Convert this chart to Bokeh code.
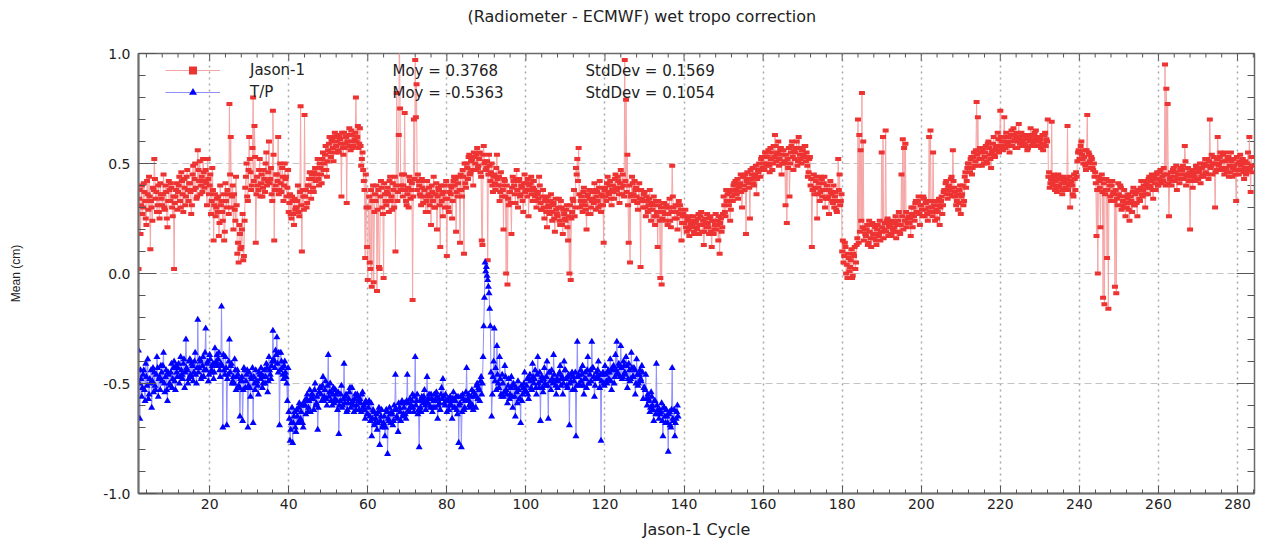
import numpy as np
from bokeh.plotting import figure
from bokeh.models import Range1d, FixedTicker, Label, Legend, LegendItem, Title
from bokeh.embed import file_html
from bokeh.resources import INLINE

# ---------------- data (values in hundredths of cm) ----------------
# set "a": samples at cycle + 0, 1/3, 2/3 ; set "b": samples at cycle + 1/6, 1/2, 5/6
FIRST_CYCLE = 2
SAMPLES_PER_CYCLE = 3

jason_a_c002_041 = [
    2, 38, 31, 27, 41, 33, 22, 36, 44, 11, 30, 39, 52, 34, 28, 40, 25, 36, 31, 45, 29, 37, 21, 42, 33, 39, 26, 2, 35, 41,
    37, 44, 30, 42, 28, 39, 35, 47, 33, 41, 27, 45, 38, 50, 34, 56, 42, 36, 44, 52, 39, 47, 31, 43, 40, 27, 48, 15, 36, 30,
    28, 17, 40, 33, 24, 15, 41, 30, 36, 77, 62, 35, 20, 29, 44, 9, 5, 18, 12, 27, 8, 39, 50, 33, 62, 46, 40, 80, 67, 14,
    44, 38, 52, 41, 35, 47, 37, 55, 42, 60, 43, 36, 74, 15, 40, 45, 62, 38, 41, 48, 33, 50, 44, 39, 28, 36, 25, 33, 22, 29,
]
jason_a_c042_081 = [
    30, 40, 26, 76, 10, 35, 72, 38, 32, 40, 46, 34, 43, 37, 48, 45, 52, 40, 48, 41, 55, 50, 58, 44, 56, 62, 53, 60, 51, 64,
    58, 63, 55, 61, 35, 57, 64, 59, 32, 60, 66, 56, 63, 58, 61, 80, 62, 57, 66, 49, 55, 42, 7, 30, -3, 35, 2, -6, 40, 28,
    33, -8, 38, 2, 42, 30, -2, 36, 31, 39, 28, 44, 35, 41, 30, 10, 82, 37, 112, 38, 45, 40, 73, 33, 36, 30, 42, 38, -12, 70,
    97, 86, 45, 40, 35, 43, 32, 38, 28, 42, 36, 31, 22, 37, 44, 30, 41, 35, 38, 12, 33, 26, 40, 34, 8, 30, 37, 36, 25, 42,
]
jason_a_c082_121 = [
    40, 19, 35, 44, 14, 38, 47, 9, 41, 50, 43, 54, 46, 52, 40, 53, 47, 57, 49, 55, 44, 13, 58, 51, 48, 6, 54, 42, 50, 37,
    45, 38, 54, 40, 33, 46, 35, 20, 42, 0, -5, 31, 37, 18, 44, 40, 32, 47, 30, 43, 36, 39, 28, 45, 41, 35, 26, 38, 44, 33,
    42, 35, 30, 37, 44, 32, 29, 38, 25, 34, 21, 31, 27, 36, 24, 32, 19, 29, 26, 34, 22, 30, 18, 27, 24, 31, 15, 0, -3, 28,
    33, 26, 48, 52, 57, 30, 35, 28, 39, 31, 20, 36, 38, 27, 33, 34, 41, 29, 37, 30, 42, 28, 35, 14, 39, 33, 44, 36, 42, 31,
]
jason_a_c122_161 = [
    40, 34, 45, 38, 42, 32, 47, 36, 40, 97, 79, 54, 14, 5, 36, 41, 33, 38, 35, 29, 41, 3, 34, 30, 37, 26, 33, 31, 38, 24,
    29, 35, 22, 26, 12, 31, -2, -5, 28, 32, 24, 30, 27, 34, 21, 49, 30, 25, 28, 20, 33, 31, 15, 26, 23, 29, 19, 25, 17, 22,
    21, 26, 18, 24, 20, 27, 22, 28, 19, 13, 25, 21, 23, 18, 26, 12, 24, 20, 27, 22, 15, 9, 25, 21, 35, 28, 38, 36, 31, 24,
    38, 33, 41, 42, 36, 34, 40, 45, 30, 44, 38, 18, 46, 41, 25, 43, 48, 40, 45, 36, 47, 50, 44, 53, 53, 47, 55, 50, 56, 46,
]
jason_a_c162_201 = [
    52, 47, 58, 63, 51, 55, 49, 56, 45, 54, 50, 31, 23, 48, 35, 55, 60, 47, 52, 57, 49, 62, 54, 50, 56, 53, 58, 55, 44, 52,
    40, 12, 38, 36, 42, 25, 39, 33, 44, 35, 41, 30, 38, 34, 27, 42, 36, 32, 30, 37, 28, 52, 45, 33, 10, 5, 14, 0, -2, 7,
    3, 11, -1, 8, 2, 13, 70, 63, 56, 82, 60, 20, 17, 22, 14, 19, 12, 23, 16, 21, 13, 22, 18, 15, 55, 62, 20, 65, 24, 17,
    21, 18, 24, 19, 23, 16, 22, 28, 18, 45, 61, 57, 59, 21, 25, 23, 17, 27, 30, 24, 33, 28, 35, 22, 31, 26, 34, 29, 33, 24,
]
jason_a_c202_241 = [
    62, 65, 30, 55, 28, 33, 25, 31, 22, 33, 27, 37, 38, 42, 34, 40, 36, 44, 56, 39, 35, 33, 29, 38, 27, 36, 31, 44, 39, 48,
    50, 46, 53, 48, 55, 51, 78, 71, 52, 55, 49, 57, 53, 58, 50, 60, 54, 48, 56, 62, 53, 58, 64, 55, 74, 60, 56, 71, 57, 62,
    60, 55, 63, 58, 66, 61, 62, 57, 68, 59, 64, 60, 63, 58, 61, 57, 62, 66, 61, 59, 64, 65, 60, 58, 62, 57, 63, 59, 64, 61,
    70, 46, 41, 69, 40, 44, 42, 37, 45, 39, 43, 36, 44, 38, 41, 67, 40, 30, 42, 36, 45, 38, 44, 55, 52, 58, 54, 50, 56, 47,
]
jason_a_c242_283 = [
    72, 55, 51, 53, 48, 50, 46, 17, 0, 42, 21, 45, -11, -14, 38, 7, -16, 40, 33, 42, 37, -6, -9, 31, 36, 40, 29, 33, 38, 26,
    30, 36, 24, 35, 28, 39, 31, 37, 26, 38, 33, 42, 35, 40, 30, 41, 36, 44, 39, 45, 34, 43, 38, 46, 40, 46, 42, 44, 48, 95,
    84, 77, 26, 44, 40, 47, 42, 46, 38, 45, 41, 48, 47, 43, 58, 40, 45, 42, 20, 44, 39, 46, 42, 48, 43, 47, 41, 48, 44, 50,
    46, 52, 43, 70, 49, 45, 53, 30, 47, 62, 50, 55, 48, 54, 45, 51, 46, 53, 49, 55, 44, 52, 47, 33, 50, 45, 54, 47, 52, 43,
    51, 46, 55, 62, 37, 49,
]

jason_b_c002_041 = [
    34, 18, 40, 30, 37, 25, 42, 29, 35, 33, 24, 38, 43, 37, 31, 28, 41, 34, 36, 30, 40, 25, 33, 38, 41, 30, 35, 32, 38, 29,
    40, 33, 46, 36, 43, 31, 44, 38, 41, 37, 31, 49, 43, 39, 35, 47, 51, 40, 37, 46, 42, 41, 52, 36, 45, 33, 38, 31, 26, 34,
    35, 23, 31, 28, 36, 19, 33, 38, 27, 45, 30, 40, 36, 24, 31, 14, 22, 11, 20, 6, 24, 44, 35, 47, 52, 38, 57, 42, 53, 36,
    40, 47, 35, 45, 39, 43, 50, 40, 46, 41, 48, 33, 54, 38, 45, 42, 36, 50, 37, 44, 40, 43, 35, 47, 32, 27, 35, 27, 34, 30,
]
jason_b_c042_081 = [
    33, 28, 37, 31, 38, 29, 35, 30, 40, 43, 37, 45, 39, 46, 42, 48, 43, 50, 45, 52, 47, 54, 47, 51, 59, 55, 61, 57, 62, 55,
    60, 56, 62, 59, 64, 54, 57, 62, 60, 63, 58, 65, 57, 60, 64, 60, 67, 59, 58, 52, 47, 38, 45, 12, 30, 5, 38, 33, -4, 36,
    40, 29, 3, 35, 39, 27, 41, 33, 37, 36, 42, 33, 29, 38, 44, 40, 33, 63, 75, 40, 35, 45, 38, 31, 39, 44, 34, 41, 35, 43,
    71, 38, 42, 36, 31, 39, 42, 35, 33, 28, 39, 35, 40, 33, 30, 36, 20, 39, 31, 40, 36, 37, 30, 42, 34, 28, 40, 39, 33, 44,
]
jason_b_c082_121 = [
    43, 37, 41, 38, 45, 35, 44, 50, 39, 48, 53, 45, 51, 47, 55, 50, 54, 48, 52, 46, 15, 54, 50, 47, 51, 45, 49, 46, 40, 44,
    41, 48, 43, 44, 37, 40, 38, 43, 35, 40, 34, 37, 32, 39, 42, 36, 43, 38, 42, 35, 40, 33, 41, 37, 38, 43, 40, 41, 36, 39,
    38, 33, 36, 34, 40, 29, 35, 30, 33, 28, 35, 30, 33, 28, 31, 25, 34, 27, 30, 24, 33, 22, 29, 25, 29, 21, 26, 31, 25, 34,
    38, 30, 45, 42, 36, 33, 31, 37, 33, 29, 35, 27, 34, 30, 37, 32, 38, 35, 33, 39, 31, 36, 31, 38, 35, 41, 37, 40, 34, 38,
]
jason_b_c122_161 = [
    37, 43, 39, 44, 36, 41, 39, 45, 35, 42, 37, 31, 40, 35, 44, 36, 42, 39, 32, 38, 34, 38, 33, 36, 30, 35, 28, 34, 29, 32,
    31, 26, 33, 28, 33, 24, 30, 25, 32, 27, 31, 22, 30, 24, 28, 35, 28, 31, 25, 31, 27, 29, 23, 27, 26, 21, 24, 20, 26, 23,
    24, 19, 23, 21, 25, 18, 26, 22, 24, 19, 23, 27, 21, 25, 19, 24, 18, 22, 20, 24, 26, 23, 19, 27, 31, 26, 33, 33, 37, 29,
    35, 40, 36, 38, 43, 39, 41, 37, 44, 40, 45, 42, 43, 39, 47, 45, 41, 44, 49, 43, 46, 47, 52, 48, 50, 55, 49, 53, 49, 57,
]
jason_b_c162_201 = [
    55, 50, 53, 58, 54, 60, 52, 57, 50, 56, 51, 54, 52, 57, 50, 58, 53, 56, 55, 60, 51, 57, 52, 56, 54, 58, 51, 49, 46, 53,
    43, 38, 45, 39, 44, 36, 41, 37, 43, 38, 44, 34, 40, 35, 38, 37, 33, 40, 35, 29, 33, 38, 31, 36, 15, 8, 12, 4, 9, 1,
    6, -2, 9, 12, 5, 16, 14, 19, 24, 21, 15, 18, 20, 13, 24, 16, 22, 18, 22, 15, 20, 17, 24, 19, 21, 16, 23, 19, 25, 22,
    23, 17, 20, 21, 26, 19, 24, 19, 22, 26, 20, 24, 28, 23, 26, 25, 30, 21, 26, 32, 28, 33, 27, 31, 29, 35, 26, 32, 27, 30,
]
jason_b_c202_241 = [
    28, 33, 26, 31, 24, 29, 28, 34, 30, 35, 31, 38, 41, 36, 39, 38, 43, 35, 42, 37, 31, 36, 32, 40, 35, 40, 33, 46, 42, 50,
    48, 52, 45, 53, 49, 56, 54, 49, 57, 52, 56, 50, 55, 51, 59, 57, 52, 55, 59, 54, 57, 56, 61, 58, 62, 57, 60, 58, 64, 59,
    62, 58, 65, 60, 63, 57, 64, 60, 62, 61, 58, 63, 59, 62, 56, 63, 60, 58, 60, 63, 61, 58, 62, 60, 61, 59, 56, 63, 58, 60,
    44, 39, 43, 41, 45, 38, 39, 43, 40, 44, 41, 38, 42, 39, 43, 38, 44, 41, 40, 35, 43, 46, 51, 56, 55, 60, 52, 53, 49, 56,
]
jason_b_c242_283 = [
    50, 54, 48, 52, 47, 44, 41, 38, 44, 39, 43, 37, 41, 36, 43, 38, 42, 35, 40, 36, 33, 38, 34, 41, 35, 39, 31, 30, 35, 32,
    34, 29, 32, 33, 37, 31, 36, 32, 38, 34, 39, 36, 38, 42, 36, 39, 43, 40, 42, 38, 44, 41, 45, 40, 43, 47, 41, 42, 45, 40,
    45, 41, 43, 46, 42, 48, 44, 49, 43, 43, 47, 45, 49, 45, 51, 44, 48, 46, 42, 47, 45, 44, 49, 43, 46, 50, 44, 45, 49, 52,
    49, 45, 51, 48, 54, 50, 50, 46, 52, 49, 53, 47, 51, 47, 55, 48, 52, 44, 46, 51, 48, 49, 45, 53, 47, 51, 49, 50, 46, 48,
    45, 50, 47, 48, 53, 46,
]

tp_a_c002_041 = [
    -35, -66, -48, -52, -44, -58, -47, -39, -55, -50, -61, -43, -45, -53, -38, -56, -47, -42, -49, -36, -54, -44, -58, -46, -51, -41, -48, -40, -53, -45,
    -43, -50, -38, -46, -41, -52, -30, -44, -48, -39, -47, -42, -45, -36, -50, -21, -43, -40, -47, -38, -44, -25, -41, -49, -37, -45, -42, -48, -34, -40,
    -42, -36, -47, -15, -70, -44, -38, -69, -46, -30, -42, -50, -47, -39, -53, -44, -51, -65, -49, -67, -43, -52, -46, -70, -45, -56, -48, -68, -50, -44,
    -49, -55, -46, -43, -52, -47, -50, -41, -54, -38, -46, -42, -26, -40, -35, -29, -45, -69, -36, -43, -48, -40, -47, -58, -63, -76, -68, -77, -65, -70,
]
tp_a_c042_081 = [
    -62, -68, -59, -66, -60, -70, -58, -64, -55, -61, -53, -57, -55, -62, -50, -59, -71, -54, -52, -58, -47, -56, -49, -60, -37, -54, -58, -60, -52, -57,
    -55, -62, -73, -58, -51, -60, -41, -56, -63, -59, -54, -61, -52, -60, -57, -62, -55, -58, -57, -63, -54, -60, -66, -59, -64, -58, -67, -74, -62, -69,
    -66, -71, -63, -78, -65, -70, -68, -74, -62, -82, -67, -64, -63, -69, -60, -46, -65, -72, -61, -67, -58, -64, -59, -66, -46, -62, -57, -60, -55, -63,
    -38, -58, -64, -79, -61, -56, -59, -53, -62, -47, -57, -60, -55, -63, -58, -61, -54, -66, -57, -62, -52, -48, -59, -55, -63, -57, -60, -58, -66, -54,
]
tp_a_c082_121 = [
    -61, -56, -64, -77, -59, -79, -55, -62, -58, -43, -57, -60, -59, -53, -62, -56, -61, -50, -52, -58, -47, -50, -24, 5, 3, -3, -9, -24, -65, -47,
    -25, -43, -33, -50, -38, -55, -46, -56, -42, -53, -59, -48, -55, -47, -61, -51, -65, -54, -49, -57, -68, -58, -52, -45, -54, -48, -57, -46, -52, -41,
    -50, -44, -55, -38, -52, -67, -47, -54, -43, -51, -40, -66, -45, -53, -48, -37, -49, -55, -52, -46, -42, -48, -55, -40, -44, -51, -47, -69, -49, -45,
    -47, -53, -74, -31, -46, -51, -49, -42, -55, -45, -52, -38, -50, -44, -31, -43, -56, -48, -47, -40, -52, -76, -46, -50, -42, -49, -45, -48, -39, -53,
]
tp_a_c122_138 = [
    -44, -50, -37, -31, -46, -42, -33, -48, -40, -45, -38, -52, -41, -49, -36, -47, -43, -55, -39, -51, -46, -48, -42, -57, -52, -46, -60, -57, -63, -54,
    -60, -67, -58, -41, -62, -66, -64, -59, -74, -61, -68, -65, -81, -63, -70, -43, -67, -74, -66, -60,
]

tp_b_c002_041 = [
    -50, -44, -56, -46, -53, -41, -51, -57, -48, -44, -49, -54, -51, -46, -43, -48, -53, -45, -42, -50, -47, -53, -45, -50, -45, -52, -43, -49, -42, -47,
    -41, -47, -44, -48, -39, -45, -43, -50, -40, -46, -41, -49, -40, -46, -43, -45, -39, -48, -42, -47, -36, -44, -40, -46, -39, -44, -41, -45, -41, -37,
    -39, -44, -41, -42, -37, -46, -43, -48, -40, -45, -41, -49, -50, -44, -47, -46, -52, -48, -47, -53, -44, -49, -44, -51, -52, -47, -43, -47, -53, -49,
    -51, -45, -48, -46, -50, -44, -47, -43, -49, -44, -48, -40, -39, -43, -37, -41, -36, -44, -40, -46, -42, -45, -50, -43, -66, -71, -61, -68, -63, -72,
]
tp_b_c042_081 = [
    -65, -61, -67, -63, -68, -60, -60, -57, -63, -58, -63, -55, -57, -53, -60, -56, -61, -52, -55, -51, -58, -53, -57, -51, -56, -50, -54, -55, -59, -53,
    -58, -54, -60, -55, -61, -57, -59, -55, -62, -57, -52, -59, -58, -63, -55, -60, -56, -62, -59, -55, -61, -62, -58, -64, -61, -65, -59, -66, -63, -68,
    -64, -68, -61, -67, -62, -69, -65, -70, -63, -66, -61, -68, -64, -67, -62, -62, -66, -59, -63, -59, -65, -61, -64, -58, -59, -63, -61, -58, -61, -56,
    -60, -55, -62, -58, -63, -57, -56, -60, -58, -59, -55, -61, -57, -61, -55, -58, -56, -60, -59, -55, -57, -56, -60, -58, -58, -62, -56, -60, -57, -61,
]
tp_b_c082_121 = [
    -58, -62, -56, -60, -56, -63, -57, -61, -54, -58, -55, -61, -56, -60, -54, -55, -51, -57, -53, -49, -55, -38, -11, 1, -1, -6, -16, -45, -55, -40,
    -49, -53, -46, -52, -48, -56, -50, -54, -47, -55, -51, -57, -52, -56, -50, -56, -52, -59, -53, -57, -51, -55, -50, -53, -51, -55, -48, -49, -53, -47,
    -48, -52, -46, -50, -45, -49, -52, -48, -50, -47, -51, -45, -49, -44, -50, -46, -51, -48, -49, -45, -51, -47, -50, -44, -48, -52, -46, -50, -46, -53,
    -49, -45, -51, -47, -50, -44, -46, -51, -48, -48, -44, -50, -46, -49, -43, -47, -51, -45, -44, -48, -46, -49, -45, -51, -46, -50, -44, -45, -49, -43,
]
tp_b_c122_138 = [
    -42, -47, -44, -45, -41, -47, -43, -47, -42, -46, -42, -48, -44, -48, -43, -47, -44, -50, -46, -50, -44, -49, -45, -52, -53, -57, -55, -58, -61, -56,
    -62, -58, -64, -60, -64, -62, -63, -67, -61, -65, -62, -68, -64, -69, -62, -66, -62, -68, -63, -65,
]

x_ticks = [20, 40, 60, 80, 100, 120, 140, 160, 180, 200, 220, 240, 260, 280]
x_minor = [m for m in range(4, 285, 4) if m % 20 != 0]
y_ticks = [-1.0, -0.5, 0.0, 0.5, 1.0]
y_minor = [round(-1 + 0.1 * i, 1) for i in range(21) if i % 5 != 0]
x_limits = (2, 284.3)
y_limits = (-1.0, 1.0)

title_text = "(Radiometer - ECMWF) wet tropo correction"
x_label = "Jason-1 Cycle"
y_label = "Mean (cm)"
series_names = ["Jason-1", "T/P"]
moy_texts = ["Moy = 0.3768", "Moy = -0.5363"]
std_texts = ["StdDev = 0.1569", "StdDev = 0.1054"]


def merge(a_vals, b_vals):
    a = np.array(a_vals) / 100.0
    b = np.array(b_vals) / 100.0
    xa_ = FIRST_CYCLE + np.arange(len(a)) / SAMPLES_PER_CYCLE
    xb_ = FIRST_CYCLE + 0.5 / SAMPLES_PER_CYCLE + np.arange(len(b)) / SAMPLES_PER_CYCLE
    x = np.concatenate([xa_, xb_])
    y = np.concatenate([a, b])
    o = np.argsort(x, kind="stable")
    return x[o], y[o]


jx, jason = merge(jason_a_c002_041 + jason_a_c042_081 + jason_a_c082_121 + jason_a_c122_161
                  + jason_a_c162_201 + jason_a_c202_241 + jason_a_c242_283,
                  jason_b_c002_041 + jason_b_c042_081 + jason_b_c082_121 + jason_b_c122_161
                  + jason_b_c162_201 + jason_b_c202_241 + jason_b_c242_283)
tx, tp = merge(tp_a_c002_041 + tp_a_c042_081 + tp_a_c082_121 + tp_a_c122_138,
               tp_b_c002_041 + tp_b_c042_081 + tp_b_c082_121 + tp_b_c122_138)

RED = "#ee3333"
RED_LINE = "#f5a5a5"
BLUE = "#0000ff"
BLUE_LINE = "#8f8fff"
TICK = "#555555"
FONT = "DejaVu Sans"

p = figure(width=1258, height=542, output_backend="svg", toolbar_location=None, title=None,
           x_range=Range1d(*x_limits), y_range=Range1d(*y_limits),
           min_border_left=138, min_border_right=4, min_border_top=53, min_border_bottom=49)

xa = p.below[0]
ya = p.left[0]

p.outline_line_color = "#6a6a6a"
p.outline_line_width = 1.5
p.background_fill_color = "white"
p.border_fill_color = "white"

xt = FixedTicker(ticks=x_ticks, minor_ticks=x_minor)
yt = FixedTicker(ticks=y_ticks, minor_ticks=y_minor)

xa.ticker = xt
ya.ticker = yt
ya.major_label_overrides = {t: f"{t:.1f}" for t in y_ticks}

for ax in (xa, ya):
    ax.axis_line_color = "#707070"
    ax.axis_line_width = 2
    ax.major_tick_line_color = TICK
    ax.minor_tick_line_color = TICK
    ax.major_tick_out = 0
    ax.minor_tick_out = 0
    ax.major_label_text_font = FONT
    ax.major_label_text_font_size = "14px"
    ax.major_label_text_color = "#222222"
    ax.axis_label_text_font_style = "normal"
    ax.axis_label_text_color = "#222222"

xa.major_tick_in = 8
xa.minor_tick_in = 4
xa.major_label_standoff = 5
xa.axis_label = x_label
xa.axis_label_text_font = FONT
xa.axis_label_text_font_size = "16px"
xa.axis_label_standoff = 8

ya.major_tick_in = 18
ya.minor_tick_in = 7
ya.major_label_standoff = 8
ya.axis_label = y_label
ya.axis_label_text_font = "Liberation Sans"
ya.axis_label_text_font_size = "12px"
ya.axis_label_standoff = 77

# blank spacer between frame and title, then the title itself
p.add_layout(Title(text=" ", standoff=12, text_font=FONT, text_font_size="10px",
                   text_color="#222222"), "above")
p.add_layout(Title(text=title_text, align="left", offset=329, vertical_align="bottom",
                   standoff=6, text_font=FONT, text_font_size="16px",
                   text_font_style="normal", text_color="#222222"), "above")

# mirrored ticks on the top and right frame edges
p.ray(x=x_ticks, y=[y_limits[1]] * len(x_ticks), length=7, length_units="screen",
      angle=-np.pi / 2, line_color=TICK, line_width=1)
p.ray(x=x_minor, y=[y_limits[1]] * len(x_minor), length=4, length_units="screen",
      angle=-np.pi / 2, line_color=TICK, line_width=1)
p.ray(x=[x_limits[1]] * len(y_ticks), y=y_ticks, length=18, length_units="screen",
      angle=np.pi, line_color=TICK, line_width=1)
p.ray(x=[x_limits[1]] * len(y_minor), y=y_minor, length=7, length_units="screen",
      angle=np.pi, line_color=TICK, line_width=1)

p.xgrid.ticker = xt
p.xgrid.grid_line_color = "#a8a8a8"
p.xgrid.grid_line_width = 1.5
p.xgrid.grid_line_dash = "2 4"
p.ygrid.ticker = FixedTicker(ticks=[-0.5, 0.0, 0.5])
p.ygrid.grid_line_color = "#c4c4c4"
p.ygrid.grid_line_width = 1
p.ygrid.grid_line_dash = "7 4"

# Jason-1
jl = p.line(jx, jason, line_color=RED_LINE, line_width=1)
p.rect(jx, jason, width=6, height=4, width_units="screen", height_units="screen",
       fill_color=RED, line_color=None)
jleg = p.scatter(x=[np.nan], y=[np.nan], marker="square", size=6, fill_color=RED, line_color=None)

# T/P
tl = p.line(tx, tp, line_color=BLUE_LINE, line_width=1)
ts = p.scatter(tx, tp, marker="triangle", size=7, fill_color=BLUE, line_color=None)

legend = Legend(items=[LegendItem(label=series_names[0], renderers=[jl, jleg]),
                       LegendItem(label=series_names[1], renderers=[tl, ts])],
                location=(27, 391), orientation="vertical",
                glyph_width=55, glyph_height=20, label_height=20, label_standoff=30,
                spacing=2, padding=0, margin=0,
                border_line_color=None, background_fill_alpha=0,
                label_text_font=FONT, label_text_font_size="15px", label_text_color="#222222")
p.add_layout(legend, "center")

for i in range(2):
    yy = 423 - 22 * i
    p.add_layout(Label(x=254, y=yy, x_units="screen", y_units="screen", text=moy_texts[i],
                       text_baseline="middle", text_font=FONT, text_font_size="15px",
                       text_color="#222222"))
    p.add_layout(Label(x=447, y=yy, x_units="screen", y_units="screen", text=std_texts[i],
                       text_baseline="middle", text_font=FONT, text_font_size="15px",
                       text_color="#222222"))

open("out.html", "w").write(file_html(p, INLINE))
